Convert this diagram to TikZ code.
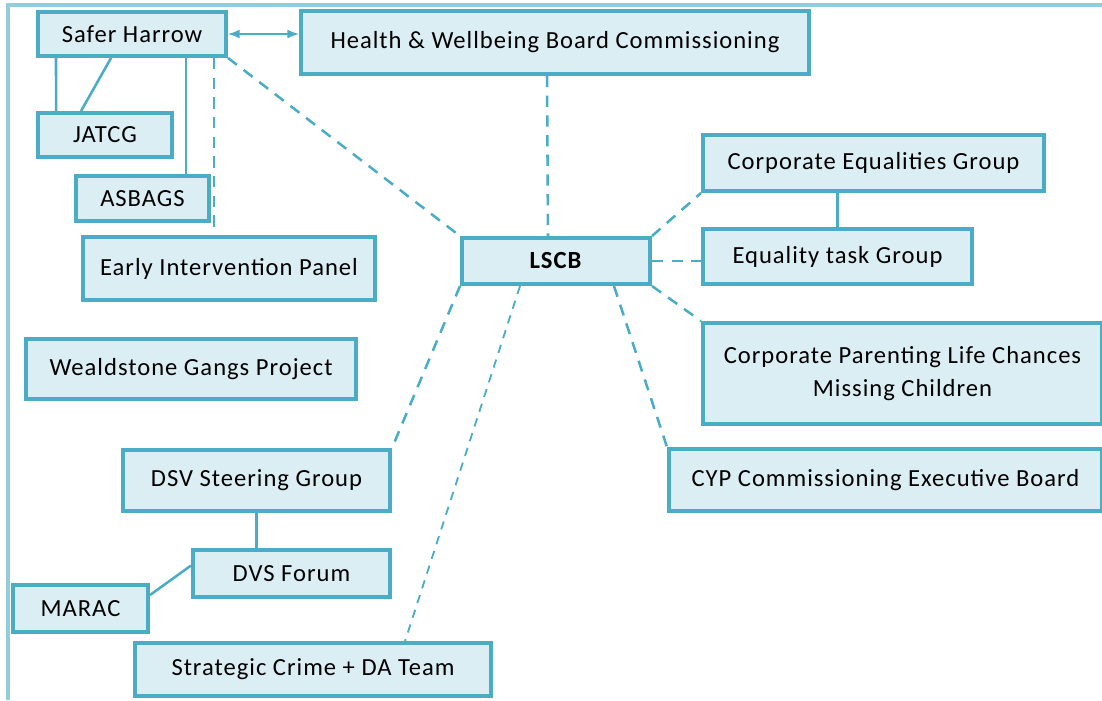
\documentclass[tikz,border=0pt]{standalone}
\usepackage{fontspec}
\setmainfont{Carlito}[LetterSpace=4]
\usetikzlibrary{arrows,positioning,calc}
\definecolor{boxline}{HTML}{4BACC6}
\definecolor{boxfill}{HTML}{DBEEF4}
\definecolor{frameline}{HTML}{92CDDC}

\begin{document}
\begin{tikzpicture}[x=0.025cm,y=-0.025cm,>=latex,
    org/.style={rectangle,draw=boxline,fill=boxfill,line width=2.8pt,inner sep=0pt,align=center,font=\fontsize{17.5}{24}\selectfont},
    link/.style={draw=boxline,line width=1.8pt},
    dlink/.style={link,dash pattern=on 8pt off 6pt},
    tlink/.style={link,line width=1.3pt,dash pattern=on 6pt off 5pt}]
    \useasboundingbox (0,0) rectangle (1102,700);
    \draw[frameline,line width=2.2pt] (8,700) -- (8,5) -- (1102,5);

    \node[org,minimum width=4.7cm,minimum height=1.1cm](safer) at (132,34){Safer Harrow};
    \node[org,minimum width=12.7cm,minimum height=1.575cm](health) at (555,42.5){Health \& Wellbeing Board Commissioning};
    \node[org,minimum width=3.35cm,minimum height=1.1cm](jatcg) at (105,135){JATCG};
    \node[org,minimum width=3.325cm,minimum height=1.125cm](asbags) at (142.5,198.5){ASBAGS};
    \node[org,minimum width=7.3cm,minimum height=1.575cm](eip) at (229,268.5){Early Intervention Panel};
    \node[org,minimum width=8.25cm,minimum height=1.5cm](gangs) at (191,369){Wealdstone Gangs Project};
    \node[org,minimum width=4.7cm,minimum height=1.15cm](lscb) at (556,261){\textbf{LSCB}};
    \node[org,minimum width=8.525cm,minimum height=1.4cm](equal) at (873.5,163){Corporate Equalities Group};
    \node[org,minimum width=6.725cm,minimum height=1.375cm](task) at (837.5,256.5){Equality task Group};
    \node[org,minimum width=9.975cm,minimum height=2.525cm](parent) at (902.5,373.5){Corporate Parenting Life Chances\\Missing Children};
    \node[org,minimum width=10.825cm,minimum height=1.55cm](cyp) at (885.5,480){CYP Commissioning Executive Board};
    \node[org,minimum width=6.675cm,minimum height=1.525cm](dsv) at (256.5,480.5){DSV Steering Group};
    \node[org,minimum width=4.925cm,minimum height=1.175cm](dvs) at (291.5,573.5){DVS Forum};
    \node[org,minimum width=3.375cm,minimum height=1.175cm](marac) at (80.5,608.5){MARAC};
    \node[org,minimum width=8.9cm,minimum height=1.325cm](crime) at (313,669.5){Strategic Crime + DA Team};

    % Safer Harrow group
    \draw[link,<->](safer.east)--(safer.east -| health.west);
    \draw[link]([xshift=0.5cm]safer.south west)--([xshift=0.5cm]jatcg.north west);
    \draw[link]([xshift=1.875cm]safer.south west)--([xshift=1.125cm]jatcg.north west);
    \draw[link]([xshift=3.75cm]safer.south west)--([xshift=3.75cm]safer.south west |- asbags.north);
    \draw[dlink]([xshift=4.45cm]safer.south west)--([xshift=4.45cm]safer.south west |- eip.north);
    \draw[dlink](safer.south east)--(lscb.north west);
    \draw[dlink]([xshift=-0.2cm]health.south)--([xshift=-0.2cm]lscb.north);

    % right side
    \draw[dlink](lscb.north east)--(equal.south west);
    \draw[dlink](lscb.east)--(lscb.east -| task.west);
    \draw[link](task.north)--(task.north |- equal.south);
    \draw[dlink](lscb.south east)--(parent.north west);
    \draw[dlink]([xshift=-0.95cm]lscb.south east)--(cyp.north west);

    % left side
    \draw[dlink](lscb.south west)--(dsv.north east);
    \draw[tlink]([xshift=1.5cm]lscb.south west)--([xshift=6.8cm]crime.north west);
    \draw[link](dsv.south)--(dsv.south |- dvs.north);
    \draw[link]([yshift=0.2cm]dvs.west)--([yshift=-0.3cm]marac.north east);
\end{tikzpicture}
\end{document}
